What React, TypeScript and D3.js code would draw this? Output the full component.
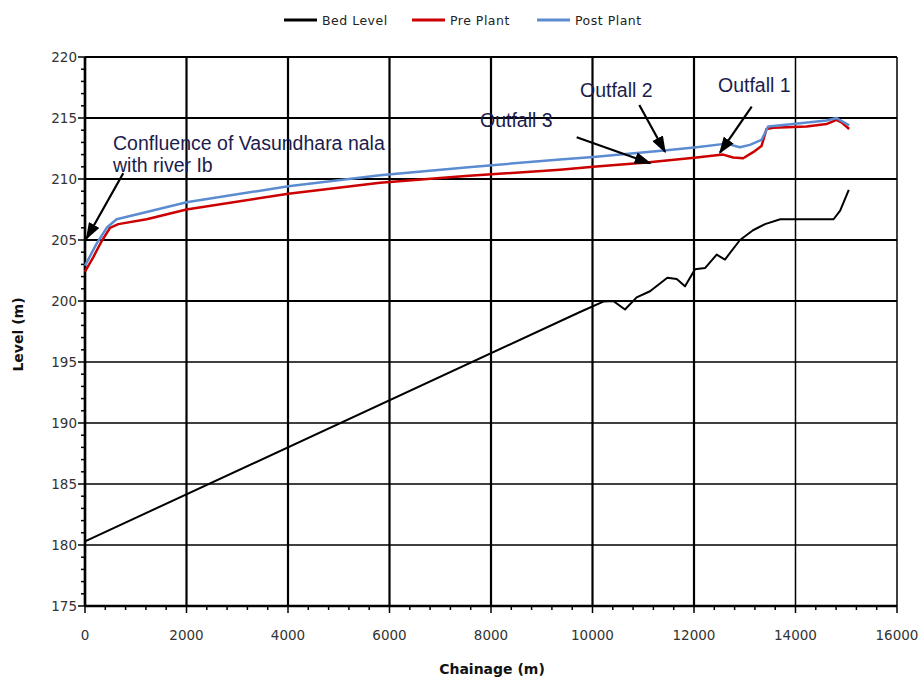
import * as d3 from 'd3';
import {useMemo} from 'react';

type Pt = [number, number];

const bedLevel: Pt[] = [
  [0, 180.3], [9754, 199.1], [10213, 199.95], [10410, 200.0], [10640, 199.3], [10870, 200.3],
  [11133, 200.8], [11475, 201.9], [11660, 201.8], [11823, 201.2], [12020, 202.6], [12217, 202.7],
  [12447, 203.8], [12610, 203.4], [12906, 205.0], [13163, 205.8], [13400, 206.3], [13700, 206.7],
  [14750, 206.7], [14880, 207.4], [15050, 209.1],
];

const prePlant: Pt[] = [
  [0, 202.4], [164, 203.6], [327, 204.9], [493, 206.0], [656, 206.3], [1215, 206.7], [2000, 207.5],
  [4006, 208.8], [5813, 209.7], [7500, 210.25], [9360, 210.76], [10016, 211.0], [11067, 211.35],
  [12049, 211.76], [12574, 212.0], [12771, 211.76], [12968, 211.7], [13166, 212.2], [13330, 212.7],
  [13429, 214.1], [13560, 214.2], [14217, 214.3], [14611, 214.5], [14808, 214.85], [14906, 214.65],
  [15057, 214.1],
];

const postPlant: Pt[] = [
  [0, 202.9], [229, 204.7], [427, 206.0], [623, 206.7], [1215, 207.3], [2000, 208.1], [4006, 209.4],
  [5813, 210.3], [7500, 210.95], [9360, 211.6], [10016, 211.8], [11461, 212.35], [12049, 212.6],
  [12640, 212.9], [12902, 212.6], [13100, 212.8], [13330, 213.2], [13461, 214.3], [13953, 214.5],
  [14611, 214.8], [14808, 215.0], [15057, 214.4],
];

const xTicks = [0, 2000, 4000, 6000, 8000, 10000, 12000, 14000, 16000];
const yTicks = [175, 180, 185, 190, 195, 200, 205, 210, 215, 220];

const series = [
  {name: 'Bed Level', data: bedLevel, color: '#000000', width: 2},
  {name: 'Pre Plant', data: prePlant, color: '#cc0000', width: 2.5},
  {name: 'Post Plant', data: postPlant, color: '#5b8bd0', width: 2.5},
];

// annotations: text position in data units, arrow from/to in data units
const notes = [
  {lines: ['Confluence of Vasundhara nala', 'with river Ib'], at: [552, 212.38] as Pt, from: [753, 210.47] as Pt, to: [33, 205.14] as Pt},
  {lines: ['Outfall 3'], at: [7783, 214.26] as Pt, from: [9688, 213.42] as Pt, to: [11133, 211.29] as Pt},
  {lines: ['Outfall 2'], at: [9754, 216.72] as Pt, from: [10922, 216.07] as Pt, to: [11428, 212.24] as Pt},
  {lines: ['Outfall 1'], at: [12473, 217.13] as Pt, from: [13137, 215.93] as Pt, to: [12512, 212.16] as Pt},
];

const W = 924;
const H = 677;
const M = {left: 85, right: 897, top: 57, bottom: 606};

export default function App() {
  const x = useMemo(() => d3.scaleLinear().domain([0, 16000]).range([M.left, M.right]), []);
  const y = useMemo(() => d3.scaleLinear().domain([175, 220]).range([M.bottom, M.top]), []);

  const line = d3
    .line<Pt>()
    .x((d) => x(d[0]))
    .y((d) => y(d[1]))
    .curve(d3.curveLinear);

  const xMinor = d3.range(0, 16001, 400);
  const yMinor = d3.range(175, 220.1, 1);
  const tickFont = '"DejaVu Sans", sans-serif';
  const noteFont = '"Liberation Sans", Arial, sans-serif';

  return (
    <div style={{position: 'absolute', left: 0, top: 0}}>
      <svg width={W} height={H} style={{display: 'block', background: '#fff'}}>
        <defs>
          <marker id="ah" viewBox="0 0 10 10" refX="9" refY="5" markerWidth="17" markerHeight="12" orient="auto-start-reverse" markerUnits="userSpaceOnUse" preserveAspectRatio="none">
            <path d="M0,0 L10,5 L0,10 z" fill="#000" />
          </marker>
        </defs>

        {/* legend */}
        {series.map((s, i) => {
          const lx = [284, 412, 537][i];
          return (
            <g key={s.name}>
              <line x1={lx} x2={lx + 33} y1={20} y2={20} stroke={s.color} strokeWidth={3} />
              <text x={lx + 38} y={24.5} fontSize={12.5} letterSpacing={0.5} fontFamily={tickFont} fill="#222">{s.name}</text>
            </g>
          );
        })}

        {/* grid */}
        {yTicks.map((t) => (
          <line key={'gy' + t} x1={M.left} x2={M.right} y1={y(t)} y2={y(t)} stroke="#000" strokeWidth={t >= 200 ? 2.2 : 1.3} />
        ))}
        {xTicks.map((t) => (
          <line key={'gx' + t} x1={x(t)} x2={x(t)} y1={M.top} y2={M.bottom} stroke="#000" strokeWidth={t >= 14000 ? 1.5 : 2.2} />
        ))}

        {/* axes */}
        <line x1={M.left} x2={M.left} y1={M.top} y2={M.bottom} stroke="#000" strokeWidth={2.5} />
        <line x1={M.left} x2={M.right} y1={M.bottom} y2={M.bottom} stroke="#000" strokeWidth={2.5} />
        {yMinor.map((t) => (
          <line key={'my' + t} x1={M.left - (t % 5 === 0 ? 7 : 4)} x2={M.left} y1={y(t)} y2={y(t)} stroke="#000" strokeWidth={1.5} />
        ))}
        {xMinor.map((t) => (
          <line key={'mx' + t} x1={x(t)} x2={x(t)} y1={M.bottom} y2={M.bottom + (t % 2000 === 0 ? 7 : 4)} stroke="#000" strokeWidth={1.5} />
        ))}
        {yTicks.map((t) => (
          <text key={'ly' + t} x={M.left - 8} y={y(t) + 5} textAnchor="end" fontSize={13.5} fontFamily={tickFont} fill="#333">{t}</text>
        ))}
        {xTicks.map((t) => (
          <text key={'lx' + t} x={x(t)} y={640} textAnchor="middle" fontSize={13.5} fontFamily={tickFont} fill="#333">{t}</text>
        ))}
        <text x={492} y={674} textAnchor="middle" fontSize={14} fontWeight="bold" fontFamily={tickFont} fill="#111">Chainage  (m)</text>
        <text transform={`translate(23,${(M.top + M.bottom) / 2 + 3}) rotate(-90)`} textAnchor="middle" fontSize={14} fontWeight="bold" fontFamily={tickFont} fill="#111">Level (m)</text>

        {/* series */}
        {series.map((s) => (
          <path key={s.name} d={line(s.data)!} fill="none" stroke={s.color} strokeWidth={s.width} strokeLinejoin="round" />
        ))}

        {/* annotations */}
        {notes.map((n, i) => (
          <g key={'n' + i}>
            {n.lines.map((l, j) => (
              <text key={j} x={x(n.at[0])} y={y(n.at[1]) + j * 22} fontSize={19.5} fontFamily={noteFont} fill="#1c1c4c">{l}</text>
            ))}
            <line x1={x(n.from[0])} y1={y(n.from[1])} x2={x(n.to[0])} y2={y(n.to[1])} stroke="#000" strokeWidth={2.2} markerEnd="url(#ah)" />
          </g>
        ))}
      </svg>
    </div>
  );
}
